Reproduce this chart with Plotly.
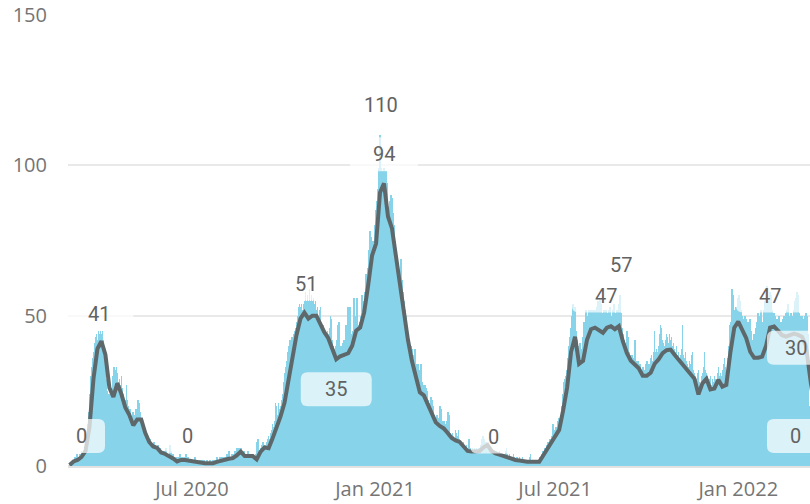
import datetime as dt
import plotly.graph_objects as go

# ---------------- data ----------------
# daily values, one list per month
bars_2020_02 = [1]
bars_2020_03 = [1, 1, 2, 2, 3, 3, 4, 4, 3, 4, 4, 5, 4, 5, 6, 8, 10, 14, 18, 24,
                30, 33, 36, 38, 41, 43, 44, 42, 45, 44, 45]
bars_2020_04 = [44, 45, 42, 38, 33, 29, 25, 24, 24, 25, 26, 30, 33, 33, 32, 33, 31, 28, 29, 27,
                30, 26, 24, 22, 22, 27, 22, 20, 18, 19]
bars_2020_05 = [16, 15, 18, 17, 16, 19, 18, 22, 21, 18, 15, 14, 12, 13, 11, 10, 9, 8, 8, 9,
                7, 7, 6, 8, 7, 6, 5, 7, 5, 6, 5]
bars_2020_06 = [5, 4, 5, 4, 6, 4, 3, 4, 7, 5, 3, 4, 3, 2, 3, 2, 3, 2, 4, 3,
                2, 3, 2, 3, 4, 2, 3, 2, 1, 2]
bars_2020_07 = [2, 1, 2, 3, 1, 2, 1, 1, 2, 1, 2, 1, 2, 1, 1, 2, 1, 1, 2, 1,
                1, 2, 2, 1, 2, 3, 2, 2, 3, 2, 3]
bars_2020_08 = [3, 2, 3, 3, 4, 2, 5, 3, 3, 4, 3, 4, 5, 4, 6, 5, 6, 5, 6, 5,
                4, 5, 4, 3, 4, 5, 4, 3, 4, 3, 4]
bars_2020_09 = [4, 3, 4, 8, 9, 9, 5, 6, 7, 8, 8, 7, 7, 8, 9, 10, 9, 11, 12, 14,
                13, 15, 21, 20, 17, 21, 19, 20, 22, 24]
bars_2020_10 = [28, 31, 33, 35, 38, 40, 42, 42, 43, 43, 44, 45, 46, 48, 50, 53, 54, 53, 54, 52,
                54, 55, 58, 55, 57, 55, 59, 55, 57, 55, 56]
bars_2020_11 = [54, 55, 52, 53, 50, 52, 53, 46, 45, 47, 45, 44, 43, 45, 44, 46, 50, 49, 42, 40,
                39, 38, 40, 42, 47, 48, 40, 39, 40, 41]
bars_2020_12 = [42, 40, 47, 45, 53, 50, 53, 44, 42, 45, 56, 48, 50, 56, 47, 46, 48, 50, 57, 55,
                52, 58, 64, 62, 66, 72, 78, 76, 74, 75, 73]
bars_2021_01 = [80, 85, 88, 92, 99, 110, 99, 98, 97, 99, 96, 98, 94, 86, 84, 88, 90, 89, 84, 80,
                75, 72, 66, 64, 62, 60, 69, 62, 58, 55, 52]
bars_2021_02 = [50, 46, 44, 41, 40, 40, 39, 37, 36, 39, 34, 33, 34, 32, 29, 34, 28, 27, 26, 27,
                26, 25, 22, 21, 20, 23, 22, 20]
bars_2021_03 = [17, 16, 15, 17, 15, 16, 20, 19, 15, 14, 15, 14, 13, 15, 18, 17, 12, 11, 10, 11,
                10, 9, 12, 11, 10, 12, 9, 8, 8, 7, 8]
bars_2021_04 = [7, 6, 7, 5, 9, 9, 6, 5, 6, 5, 6, 5, 6, 5, 6, 6, 7, 9, 10, 10,
                9, 8, 8, 6, 6, 5, 6, 5, 4, 5]
bars_2021_05 = [5, 4, 5, 4, 4, 5, 4, 3, 4, 3, 4, 5, 6, 4, 3, 4, 3, 3, 2, 4,
                3, 2, 3, 3, 2, 3, 2, 2, 3, 2, 2]
bars_2021_06 = [2, 2, 1, 2, 3, 4, 2, 2, 1, 2, 1, 2, 2, 1, 2, 3, 2, 4, 5, 4,
                6, 6, 7, 8, 7, 9, 8, 10, 14, 11]
bars_2021_07 = [12, 13, 11, 15, 16, 15, 17, 20, 24, 28, 29, 30, 32, 36, 40, 43, 46, 50, 54, 52,
                53, 45, 42, 38, 40, 41, 39, 38, 43, 48, 45]
bars_2021_08 = [52, 49, 50, 52, 51, 52, 48, 52, 50, 52, 48, 53, 55, 52, 56, 54, 51, 48, 52, 50,
                52, 51, 49, 52, 53, 50, 48, 52, 54, 51, 50]
bars_2021_09 = [52, 50, 54, 57, 51, 46, 44, 42, 41, 40, 45, 43, 38, 37, 36, 37, 35, 36, 42, 35,
                34, 35, 33, 34, 32, 32, 33, 31, 32, 34]
bars_2021_10 = [35, 33, 34, 33, 36, 37, 35, 38, 45, 38, 39, 38, 40, 44, 47, 46, 42, 41, 40, 42,
                44, 43, 41, 44, 42, 43, 40, 41, 39, 38, 40]
bars_2021_11 = [37, 38, 36, 37, 39, 47, 37, 36, 38, 35, 34, 33, 35, 34, 37, 38, 32, 31, 30, 29,
                31, 32, 28, 27, 30, 31, 33, 38, 32, 31]
bars_2021_12 = [30, 28, 29, 30, 27, 29, 28, 30, 29, 28, 31, 33, 30, 31, 30, 32, 34, 36, 33, 31,
                36, 40, 47, 48, 55, 59, 57, 50, 52, 53, 52]
bars_2022_01 = [56, 57, 55, 52, 50, 49, 48, 50, 49, 47, 48, 46, 49, 45, 42, 42, 44, 43, 46, 48,
                51, 45, 50, 52, 46, 48, 52, 55, 58, 60, 52]
bars_2022_02 = [55, 58, 57, 52, 50, 51, 50, 48, 49, 46, 50, 47, 48, 46, 49, 50, 48, 51, 52, 54,
                50, 49, 51, 48, 50, 52, 55, 56]
bars_2022_03 = [58, 57, 51, 50, 49, 50, 48, 49, 50, 51, 50, 44, 20, 5, 0]

monthly_bars = [
    ("2020-02-29", bars_2020_02), ("2020-03-01", bars_2020_03), ("2020-04-01", bars_2020_04),
    ("2020-05-01", bars_2020_05), ("2020-06-01", bars_2020_06), ("2020-07-01", bars_2020_07),
    ("2020-08-01", bars_2020_08), ("2020-09-01", bars_2020_09), ("2020-10-01", bars_2020_10),
    ("2020-11-01", bars_2020_11), ("2020-12-01", bars_2020_12), ("2021-01-01", bars_2021_01),
    ("2021-02-01", bars_2021_02), ("2021-03-01", bars_2021_03), ("2021-04-01", bars_2021_04),
    ("2021-05-01", bars_2021_05), ("2021-06-01", bars_2021_06), ("2021-07-01", bars_2021_07),
    ("2021-08-01", bars_2021_08), ("2021-09-01", bars_2021_09), ("2021-10-01", bars_2021_10),
    ("2021-11-01", bars_2021_11), ("2021-12-01", bars_2021_12), ("2022-01-01", bars_2022_01),
    ("2022-02-01", bars_2022_02), ("2022-03-01", bars_2022_03),
]

# 7-day average, one value every 4 days starting 2020-02-29
avg_start = "2020-02-29"
avg_step_days = 4
avg_7d = [
    0.3, 1.5, 2, 3, 5, 13, 29, 39, 41.5, 37, 26, 23, 27.5, 24, 19.5, 17, 13.5, 15.5, 15.5, 11,
    8, 6.5, 6, 4.5, 4, 3.3, 2.5, 1.5, 2, 2, 1.8, 1.4, 1.2, 0.9, 0.9, 0.9, 0.9, 1.4, 1.8, 2.2,
    2.4, 2.6, 3.5, 4.8, 3.3, 3.3, 3.3, 2.2, 4.8, 6.2, 5.9, 9.2, 12.5, 16.5, 21, 29, 36, 43.5, 49, 51,
    49, 50, 50, 47, 44.5, 42.5, 38.5, 35.5, 36.5, 37, 37.5, 40, 45, 46, 51, 60, 70, 74, 91, 94,
    83, 79, 70, 59, 51, 42, 35, 29.5, 24.5, 23.5, 20.5, 17, 14.5, 13.3, 12.5, 11, 9.3, 8.5, 8, 6.5,
    5, 4.8, 4.8, 5, 6.2, 7, 5, 4.2, 3.8, 3.3, 2.8, 2.3, 2, 1.8, 1.5, 1.4, 1.4, 1.4, 1.4, 3.5,
    5.5, 7.5, 9.5, 12, 18.5, 26, 38, 43, 34, 35, 42, 45.5, 46, 45.3, 44.3, 46, 46.5, 45.5, 46.5, 41.5,
    37.6, 35, 33.5, 32.5, 30, 30, 31, 34, 35.5, 37.5, 38.5, 38.7, 37, 35.5, 34, 32, 31, 29, 23.8, 27.5,
    29, 25.5, 25.8, 28.7, 26.4, 27, 37.6, 46, 48, 45, 42.5, 38, 36, 36, 36.4, 40, 46, 46.4, 44.8, 43.5,
    43, 43.5, 44, 43.6, 43, 40, 31, 20,
]

y_tick_vals = [0, 50, 100, 150]
x_tick_vals = ["2020-07-01", "2021-01-01", "2021-07-01", "2022-01-01"]
x_tick_text = ["Jul 2020", "Jan 2021", "Jul 2021", "Jan 2022"]

# value labels: text, date, value at text centre, box width (px)
labels = [
    ("41", "2020-03-30", 50.7, 68),
    ("0", "2020-03-12", 10.0, 47),
    ("0", "2020-06-26", 10.0, 46),
    ("51", "2020-10-24", 60.7, 68),
    ("35", "2020-11-23", 25.5, 71),
    ("110", "2021-01-07", 120.0, 68),
    ("94", "2021-01-10", 103.7, 68),
    ("0", "2021-04-30", 9.8, 46),
    ("57", "2021-09-05", 67.0, 68),
    ("47", "2021-08-21", 56.7, 68),
    ("47", "2022-02-02", 56.7, 68),
    ("30", "2022-02-28", 39.3, 58),
    ("0", "2022-02-28", 10.0, 58),
]

# ---------------- build series ----------------
DAY = dt.timedelta(days=1)
bar_x, bar_y = [], []
for start, vals in monthly_bars:
    d0 = dt.date.fromisoformat(start)
    for k, v in enumerate(vals):
        bar_x.append(d0 + k * DAY)
        bar_y.append(v)

a0 = dt.date.fromisoformat(avg_start)
avg_x = [a0 + k * avg_step_days * DAY for k in range(len(avg_7d))]

# ---------------- layout geometry ----------------
W, H = 810, 504
ML, MR, MT, MB = 68, 0, 15, 38
PW, PH = W - ML - MR, H - MT - MB
x_start = dt.datetime(2020, 2, 29) - dt.timedelta(days=1.6)
x_end = dt.datetime(2020, 2, 29) + dt.timedelta(days=744.1)
Y_MAX = 150

def x_paper(date_str):
    d = dt.datetime.fromisoformat(date_str)
    return (d - x_start) / (x_end - x_start)

def rounded_box(cx, cy, w_px, h_px, r_px=7):
    hw, hh = w_px / 2 / PW, h_px / 2 / PH
    rx, ry = r_px / PW, r_px / PH
    x0, x1, y0, y1 = cx - hw, cx + hw, cy - hh, cy + hh
    return (f"M {x0+rx},{y0} L {x1-rx},{y0} Q {x1},{y0} {x1},{y0+ry} "
            f"L {x1},{y1-ry} Q {x1},{y1} {x1-rx},{y1} L {x0+rx},{y1} "
            f"Q {x0},{y1} {x0},{y1-ry} L {x0},{y0+ry} Q {x0},{y0} {x0+rx},{y0} Z")

BAR_COLOR = "#87d3ea"
LINE_COLOR = "#5e686a"
TEXT_COLOR = "#626262"
TICK_COLOR = "#757575"

fig = go.Figure()
fig.add_trace(go.Bar(
    x=bar_x, y=bar_y, width=1.6 * 86400000,
    marker=dict(color=BAR_COLOR, line=dict(width=0)),
    hoverinfo="skip", showlegend=False,
))
fig.add_trace(go.Scatter(
    x=avg_x, y=avg_7d, mode="lines",
    line=dict(color=LINE_COLOR, width=4),
    hoverinfo="skip", showlegend=False,
))

shapes, annotations = [], []
for text, date, val, w in labels:
    cx, cy = x_paper(date), val / Y_MAX
    shapes.append(dict(
        type="path", xref="paper", yref="paper", layer="above",
        path=rounded_box(cx, cy, w, 34),
        fillcolor="rgba(255,255,255,0.7)", line=dict(width=0),
    ))
    annotations.append(dict(
        x=date, y=val, xref="x", yref="y", text=text, showarrow=False,
        xanchor="center", yanchor="middle",
        font=dict(family="Roboto", size=20, color=TEXT_COLOR),
    ))

fig.update_layout(
    width=W, height=H,
    margin=dict(l=ML, r=MR, t=MT, b=MB, pad=0, autoexpand=False),
    paper_bgcolor="white", plot_bgcolor="white",
    bargap=0, barmode="overlay",
    shapes=shapes, annotations=annotations,
    xaxis=dict(
        type="date", range=[x_start, x_end], automargin=False,
        tickvals=x_tick_vals, ticktext=x_tick_text,
        showgrid=False, zeroline=False, showline=False, ticks="",
        ticklabelstandoff=9,
        tickfont=dict(family="Open Sans", size=20, color=TICK_COLOR),
    ),
    yaxis=dict(
        range=[0, Y_MAX], tickvals=y_tick_vals, automargin=False,
        showgrid=True, gridcolor="#e9e9e9", gridwidth=2,
        zeroline=True, zerolinecolor="#e2e2e2", zerolinewidth=3,
        showline=False, ticks="", ticklabelstandoff=20,
        tickfont=dict(family="Open Sans", size=20, color=TICK_COLOR),
    ),
)

fig.write_html(
    "out.html",
    config={"displayModeBar": False, "staticPlot": True},
    post_script="document.body.style.margin='0';document.body.style.overflow='hidden';",
)
